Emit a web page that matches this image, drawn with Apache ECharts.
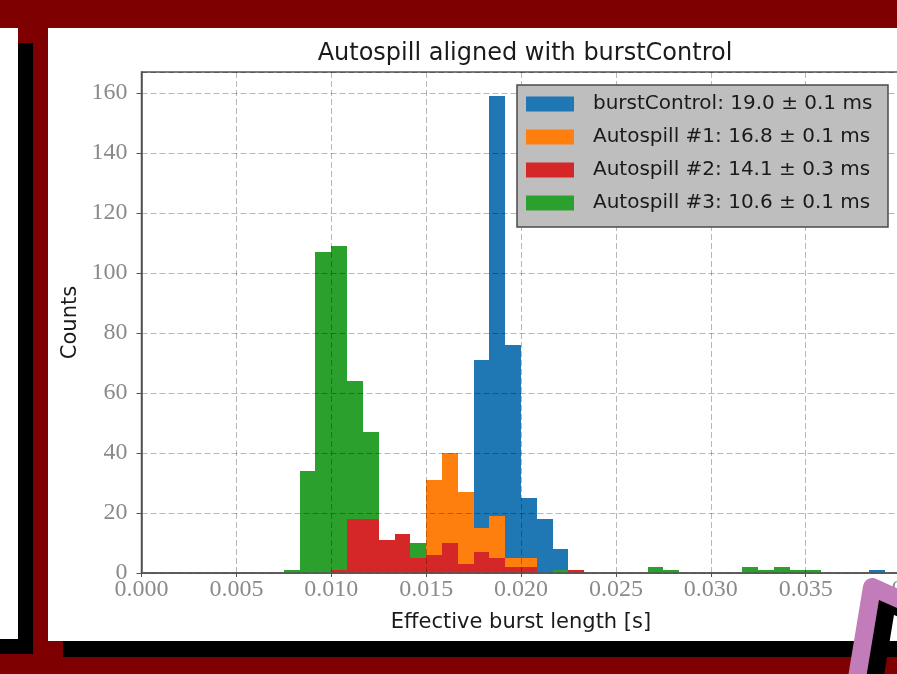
<!DOCTYPE html>
<html>
<head>
<meta charset="utf-8">
<script src="https://cdn.jsdelivr.net/npm/echarts@6/dist/echarts.min.js"></script>
<style>
  html, body { margin: 0; padding: 0; background: #7f0000; }
  #chart { width: 897px; height: 674px; }
</style>
</head>
<body>
<div id="chart"></div>
<script>
// ---- data (histogram counts per bin; 48 bins spanning 0 .. 0.04 s) ----
const binCount = 48;
const xMin = 0.0, xMax = 0.04;
const xTicks = ['0.000','0.005','0.010','0.015','0.020','0.025','0.030','0.035','0.040'];
const yTicks = [0, 20, 40, 60, 80, 100, 120, 140, 160];

const seriesNames = [
  'burstControl: 19.0 \u00b1 0.1 ms',
  'Autospill #1: 16.8 \u00b1 0.1 ms',
  'Autospill #2: 14.1 \u00b1 0.3 ms',
  'Autospill #3: 10.6 \u00b1 0.1 ms'
];
const seriesColors = ['#1f77b4', '#ff7f0e', '#d62728', '#2ca02c'];

//                       0 1 2 3 4 5 6 7 8 9 10 11  12  13 14 15 16 17 18 19 20 21  22  23 24 25 26 27 28 29 30 31 32 33 34 35 36 37 38 39 40 41 42 43 44 45 46 47
const burstControl =    [0,0,0,0,0,0,0,0,0,0, 0,  0,  0, 0, 0, 0, 0, 0, 0, 0, 3,71,159,76,25,18, 8, 0, 0, 0, 0, 0, 0, 0, 0, 0, 0, 0, 0, 0, 0, 0, 0, 0, 0, 0, 1, 0];
const autospill1 =      [0,0,0,0,0,0,0,0,0,0, 0,  0,  0, 0, 0, 0, 0, 2,31,40,27,15, 19, 5, 5, 0, 0, 0, 0, 0, 0, 0, 0, 0, 0, 0, 0, 0, 0, 0, 0, 0, 0, 0, 0, 0, 0, 0];
const autospill2 =      [0,0,0,0,0,0,0,0,0,0, 0,  0,  1,18,18,11,13, 5, 6,10, 3, 7,  5, 2, 2, 0, 0, 1, 0, 0, 0, 0, 0, 0, 0, 0, 0, 0, 0, 0, 0, 0, 0, 0, 0, 0, 0, 0];
const autospill3 =      [0,0,0,0,0,0,0,0,0,1,34,107,109,64,47, 7, 5,10, 2, 0, 0, 0,  0, 0, 0, 0, 1, 0, 0, 0, 0, 0, 2, 1, 0, 0, 0, 0, 2, 1, 2, 1, 1, 0, 0, 0, 0, 0];

const binWidth = (xMax - xMin) / binCount;

function histData(counts) {
  const out = [];
  counts.forEach((c, k) => {
    if (c > 0) out.push([xMin + k * binWidth, xMin + (k + 1) * binWidth, c]);
  });
  return out;
}

function histSeries(name, counts, color) {
  return {
    type: 'custom',
    name: name,
    coordinateSystem: 'cartesian2d',
    itemStyle: { color: color },
    encode: { x: [0, 1], y: 2 },
    z: 2,
    renderItem: function (params, api) {
      const p0 = api.coord([api.value(0), 0]);
      const p1 = api.coord([api.value(1), api.value(2)]);
      const x0 = Math.round(p0[0]), x1 = Math.round(p1[0]);
      return {
        type: 'rect',
        shape: { x: x0, y: p1[1], width: x1 - x0, height: p0[1] - p1[1] },
        style: { fill: color }
      };
    },
    data: histData(counts)
  };
}

const SANS = '"DejaVu Sans", sans-serif';
const SERIF = '"Liberation Serif", "DejaVu Serif", serif';

const chart = echarts.init(document.getElementById('chart'), null, { renderer: 'canvas' });

const option = {
  backgroundColor: '#7f0000',
  animation: false,
  title: {
    text: 'Autospill aligned with burstControl',
    left: 520,
    top: 37,
    textAlign: 'center',
    textStyle: { fontFamily: SANS, fontSize: 24, fontWeight: 'normal', color: '#1a1a1a' }
  },
  grid: {
    left: 141.5, top: 72, width: 759, height: 501,
    outerBoundsMode: 'none',
    containLabel: false,
    show: true, borderColor: '#555', borderWidth: 1.5, backgroundColor: 'transparent'
  },
  legend: {
    orient: 'vertical',
    left: 526, top: 93,
    padding: 0,
    itemWidth: 48, itemHeight: 15, itemGap: 11,
    icon: 'rect',
    z: 20,
    data: seriesNames,
    textStyle: { fontFamily: SANS, fontSize: 20, color: '#1a1a1a', lineHeight: 22, padding: [0, 0, 0, 14] }
  },
  xAxis: {
    type: 'value',
    min: xMin, max: xMax, interval: 0.005,
    z: 5,
    name: 'Effective burst length [s]',
    nameLocation: 'middle',
    nameGap: 39,
    nameTextStyle: { fontFamily: SANS, fontSize: 21, color: '#1a1a1a' },
    axisLine: { show: true, onZero: false, lineStyle: { color: '#555', width: 1.5 } },
    axisTick: { show: true, length: 4, lineStyle: { color: '#555' } },
    axisLabel: {
      margin: 5, fontFamily: SERIF, fontSize: 24, color: '#8a8a8a',
      formatter: function (v) { const i = Math.round(v / 0.005); return xTicks[i] !== undefined ? xTicks[i] : ''; }
    },
    splitLine: { show: true, lineStyle: { color: 'rgba(0,0,0,0.28)', width: 1, type: [6, 3] } }
  },
  yAxis: {
    type: 'value',
    min: 0, max: 167, interval: 20,
    z: 5,
    name: 'Counts',
    nameLocation: 'middle',
    nameGap: 47,
    nameTextStyle: { fontFamily: SANS, fontSize: 21, color: '#1a1a1a' },
    axisLine: { show: true, lineStyle: { color: '#555', width: 1.5 } },
    axisTick: { show: true, length: 5, lineStyle: { color: '#555' } },
    axisLabel: {
      margin: 14, fontFamily: SERIF, fontSize: 24, color: '#8a8a8a', showMaxLabel: false,
      formatter: function (v) { return yTicks.indexOf(v) >= 0 ? String(v) : ''; }
    },
    splitLine: { show: true, lineStyle: { color: 'rgba(0,0,0,0.28)', width: 1, type: [6, 3] } }
  },
  graphic: {
    elements: [
      // left panel shadow + panel
      { type: 'rect', z: -10, shape: { x: -20, y: 43, width: 53, height: 611 }, style: { fill: '#000' } },
      { type: 'rect', z: -9, shape: { x: -20, y: 28, width: 38, height: 611 }, style: { fill: '#fff' } },
      // main panel shadow + panel
      { type: 'rect', z: -10, shape: { x: 63, y: 43, width: 900, height: 614 }, style: { fill: '#000' } },
      { type: 'rect', z: -9, shape: { x: 48, y: 28, width: 900, height: 613 }, style: { fill: '#fff' } },
      // legend box
      { type: 'rect', z: 15, shape: { x: 517, y: 85, width: 371, height: 142 },
        style: { fill: '#bebebe', stroke: '#4a4a4a', lineWidth: 1.5 } },
      // pink annotation stroke with its shadow
      { type: 'polyline', z: 99, shape: { points: [[870, 705], [887, 602], [925, 619]] },
        style: { stroke: '#000', lineWidth: 18, lineJoin: 'round', fill: null } },
      { type: 'polyline', z: 100, shape: { points: [[855, 690], [872, 587], [910, 604]] },
        style: { stroke: '#c27cb9', lineWidth: 18, lineJoin: 'round', fill: null } }
    ]
  },
  series: [
    histSeries(seriesNames[0], burstControl, seriesColors[0]),
    histSeries(seriesNames[1], autospill1, seriesColors[1]),
    histSeries(seriesNames[3], autospill3, seriesColors[3]),
    histSeries(seriesNames[2], autospill2, seriesColors[2])
  ]
};

chart.setOption(option);
</script>
</body>
</html>
